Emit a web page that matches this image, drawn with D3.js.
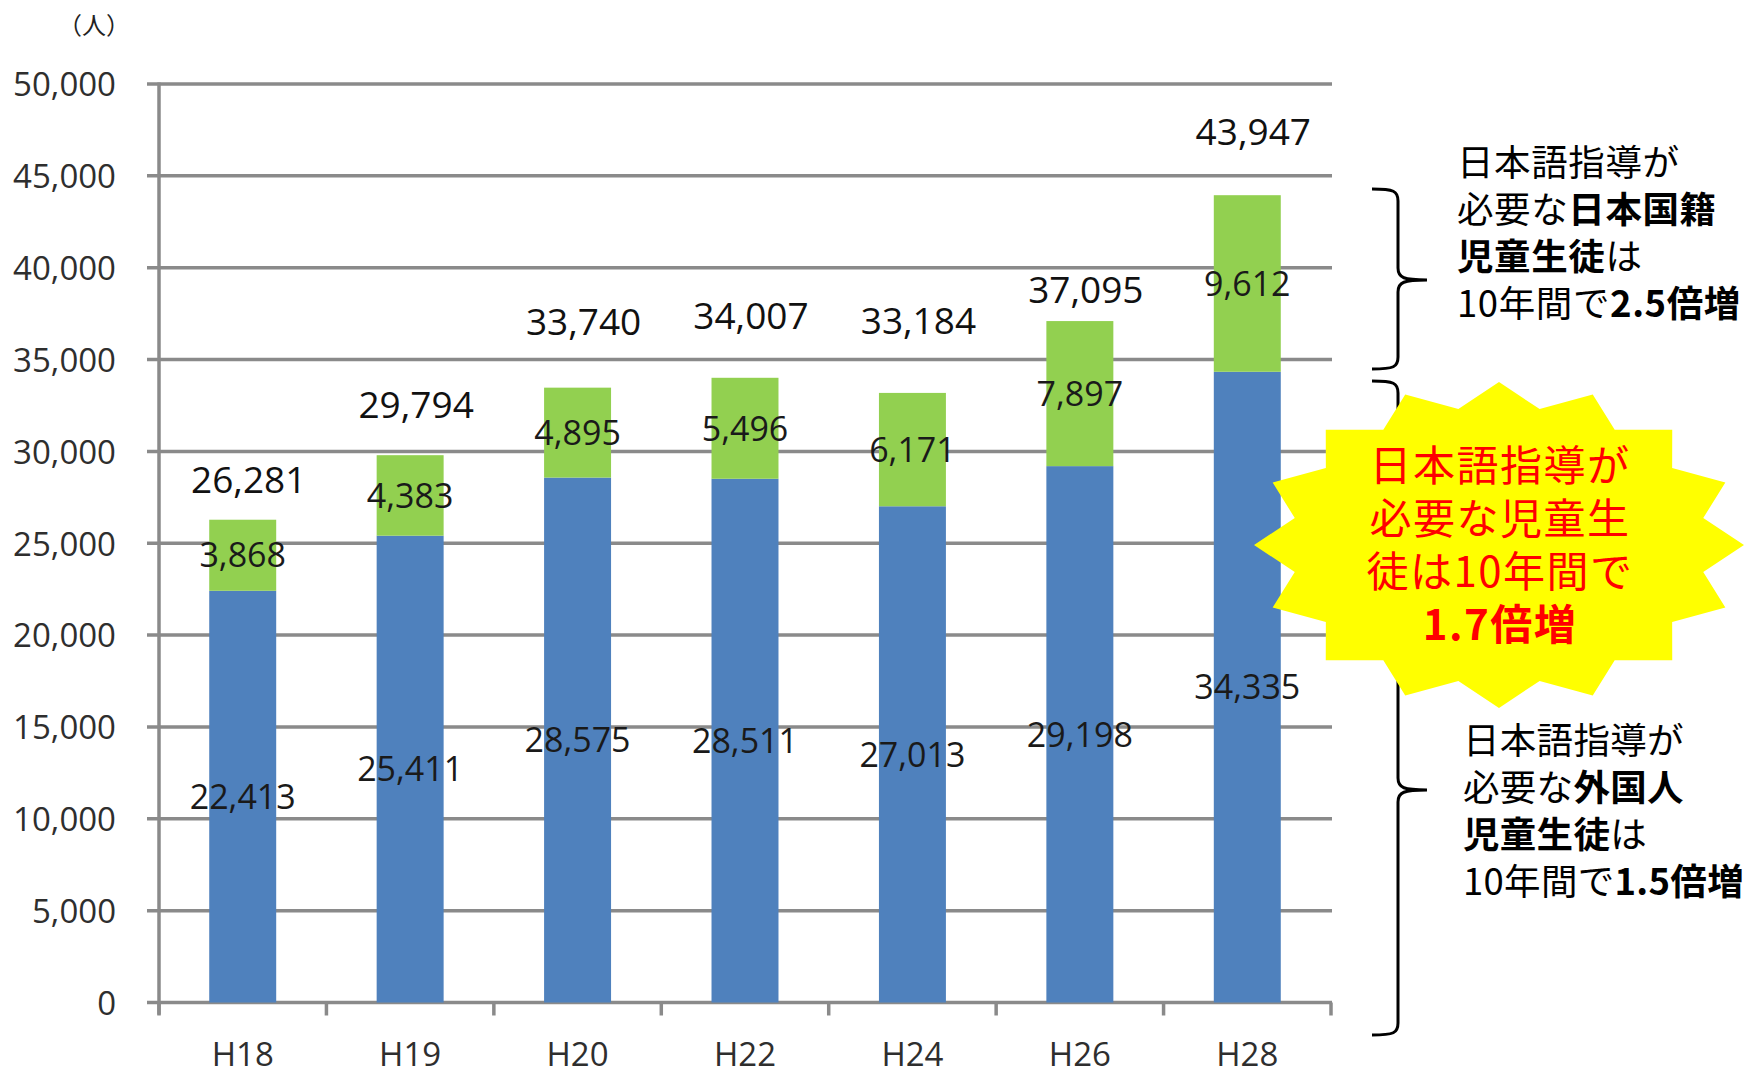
<!DOCTYPE html>
<html>
<head>
<meta charset="utf-8">
<script src="https://cdn.jsdelivr.net/npm/d3@7"></script>
<style>
  body { margin: 0; background: #fff; }
  text { font-family: "Open Sans", "Noto Sans CJK JP", sans-serif; }
  .jp { font-family: "Noto Sans CJK JP", sans-serif; }
</style>
</head>
<body>
<div id="chart"></div>
<script>
// data
var categories = ["H18", "H19", "H20", "H22", "H24", "H26", "H28"];
var foreignVals = [22413, 25411, 28575, 28511, 27013, 29198, 34335];   // blue
var japaneseVals = [3868, 4383, 4895, 5496, 6171, 7897, 9612];         // green
var totalLabels = [26281, 29794, 33740, 34007, 33184, 37095, 43947];   // printed totals
var yTicks = [0, 5000, 10000, 15000, 20000, 25000, 30000, 35000, 40000, 45000, 50000];

// total labels sit at hand-placed heights above each bar (px)
var totalLift = [40, 51, 66, 62, 72, 31, 64];

var W = 1749, H = 1076;
var plotLeft = 159, plotRight = 1331, plotTop = 84, plotBottom = 1002.5;

var svg = d3.select("#chart").append("svg")
    .attr("width", W)
    .attr("height", H);

var x = d3.scaleBand()
    .domain(categories)
    .range([plotLeft, plotRight])
    .paddingInner(0.6)
    .paddingOuter(0.3);

var y = d3.scaleLinear()
    .domain([0, 50000])
    .range([plotBottom, plotTop]);

var fmt = d3.format(",");

// gridlines
svg.append("g").selectAll("line")
    .data(yTicks)
    .enter().append("line")
    .attr("x1", plotLeft - 12)
    .attr("x2", plotRight + 1)
    .attr("y1", function(d) { return y(d); })
    .attr("y2", function(d) { return y(d); })
    .attr("stroke", "#8a8a8a")
    .attr("stroke-width", 3.5);

// y axis labels
var yAxis = svg.append("g")
    .attr("transform", "translate(" + plotLeft + ",0)")
    .call(d3.axisLeft(y).tickValues(yTicks).tickFormat(fmt).tickSize(0).tickPadding(43));
yAxis.select(".domain").remove();
yAxis.selectAll("text")
    .attr("font-family", "Open Sans")
    .style("font-size", "33px")
    .attr("fill", "#2e2e2e")
    .attr("dy", "0.36em");

// y axis line
svg.append("line")
    .attr("x1", plotLeft).attr("x2", plotLeft)
    .attr("y1", plotTop - 1.5).attr("y2", plotBottom + 12)
    .attr("stroke", "#8a8a8a")
    .attr("stroke-width", 3.5);

// category boundary ticks on the x axis
var edges = d3.range(categories.length + 1).map(function(i) { return plotLeft + i * x.step(); });
svg.append("g").selectAll("line")
    .data(edges)
    .enter().append("line")
    .attr("x1", function(d) { return d; })
    .attr("x2", function(d) { return d; })
    .attr("y1", plotBottom)
    .attr("y2", plotBottom + 13)
    .attr("stroke", "#8a8a8a")
    .attr("stroke-width", 3.5);

// x axis labels
var xAxis = svg.append("g")
    .attr("transform", "translate(0," + plotBottom + ")")
    .call(d3.axisBottom(x).tickSize(0).tickPadding(40));
xAxis.select(".domain").remove();
xAxis.selectAll("text")
    .attr("font-family", "Open Sans")
    .style("font-size", "33px")
    .attr("fill", "#2e2e2e");

// stacked bars
var rows = categories.map(function(c, i) {
    return { cat: c, foreign: foreignVals[i], japanese: japaneseVals[i], total: totalLabels[i], lift: totalLift[i] };
});
var stack = d3.stack().keys(["foreign", "japanese"]);
var series = stack(rows);
var colors = { foreign: "#4f81bd", japanese: "#92d050" };

var layer = svg.append("g").selectAll("g")
    .data(series)
    .enter().append("g")
    .attr("fill", function(s) { return colors[s.key]; });

layer.selectAll("rect")
    .data(function(s) { return s; })
    .enter().append("rect")
    .attr("x", function(d) { return x(d.data.cat); })
    .attr("width", x.bandwidth())
    .attr("y", function(d) { return y(d[1]); })
    .attr("height", function(d) { return y(d[0]) - y(d[1]); });

// segment labels
layer.each(function(s) {
    d3.select(this).selectAll("text")
        .data(s)
        .enter().append("text")
        .attr("x", function(d) { return x(d.data.cat) + x.bandwidth() / 2; })
        .attr("y", function(d) { return (y(d[0]) + y(d[1])) / 2; })
        .attr("dy", "0.36em")
        .attr("text-anchor", "middle")
        .attr("fill", "#1a1a1a")
        .style("font-size", "34px")
        .text(function(d) { return fmt(d[1] - d[0]); });
});

// totals
svg.append("g").selectAll("text")
    .data(rows)
    .enter().append("text")
    .attr("x", function(d) { return x(d.cat) + x.bandwidth() / 2 + 6; })
    .attr("y", function(d) { return y(d.foreign + d.japanese) - d.lift; })
    .attr("dy", "0.36em")
    .attr("text-anchor", "middle")
    .attr("fill", "#111")
    .style("font-size", "37px")
    .text(function(d) { return fmt(d.total); });

// unit
svg.append("text")
    .attr("class", "jp")
    .attr("x", 58)
    .attr("y", 34)
    .attr("fill", "#222")
    .style("font-size", "24px")
    .text("（人）");

// braces
function brace(x0, y0, y1, ym) {
    var xv = x0 + 26, xp = x0 + 55, r = 12;
    return "M" + x0 + "," + y0 +
        "C" + (xv - 4) + "," + y0 + " " + xv + "," + (y0 + 2) + " " + xv + "," + (y0 + r) +
        "L" + xv + "," + (ym - r) +
        "C" + xv + "," + (ym - 2) + " " + (xv + 6) + "," + ym + " " + xp + "," + ym +
        "C" + (xv + 6) + "," + ym + " " + xv + "," + (ym + 2) + " " + xv + "," + (ym + r) +
        "L" + xv + "," + (y1 - r) +
        "C" + xv + "," + (y1 - 2) + " " + (xv - 4) + "," + y1 + " " + x0 + "," + y1;
}
svg.append("path")
    .attr("d", brace(1372, 189, 369, 280))
    .attr("fill", "none").attr("stroke", "#000").attr("stroke-width", 3);
svg.append("path")
    .attr("d", brace(1372, 381, 1035, 790))
    .attr("fill", "none").attr("stroke", "#000").attr("stroke-width", 3);

// starburst
var cx = 1499, cy = 545, rx = 245, ry = 163, nPts = 16;
var starPts = d3.range(nPts * 2).map(function(i) {
    var a = -Math.PI / 2 + i * Math.PI / nPts;
    var r = i % 2 === 0 ? 1 : 0.85;
    return [cx + Math.cos(a) * rx * r, cy + Math.sin(a) * ry * r];
});
svg.append("path")
    .attr("d", d3.line()(starPts) + "Z")
    .attr("fill", "#ffff00");

// annotation text blocks
function block(lines, x0, y0, lh, size, color, anchor, spacing) {
    var t = svg.append("text")
        .attr("class", "jp")
        .attr("fill", color)
        .attr("text-anchor", anchor)
        .attr("letter-spacing", spacing)
        .style("font-size", size + "px");
    lines.forEach(function(parts, i) {
        var line = t.append("tspan").attr("x", x0).attr("y", y0 + i * lh);
        parts.forEach(function(p) {
            line.append("tspan")
                .attr("font-weight", p[1] ? "bold" : "normal")
                .text(p[0]);
        });
    });
}

block([
    [["日本語指導が", 0]],
    [["必要な", 0], ["日本国籍", 1]],
    [["児童生徒", 1], ["は", 0]],
    [["10年間で", 0], ["2.5倍増", 1]]
], 1457, 176, 47, 36.5, "#000", "start", 0.6);

block([
    [["日本語指導が", 0]],
    [["必要な", 0], ["外国人", 1]],
    [["児童生徒", 1], ["は", 0]],
    [["10年間で", 0], ["1.5倍増", 1]]
], 1463, 754, 47, 36.5, "#000", "start", 0.3);

block([
    [["日本語指導が", 0]],
    [["必要な児童生", 0]],
    [["徒は10年間で", 0]],
    [["1.7倍増", 1]]
], 1500, 481, 53, 42, "#ff0000", "middle", 1.5);
</script>
</body>
</html>
